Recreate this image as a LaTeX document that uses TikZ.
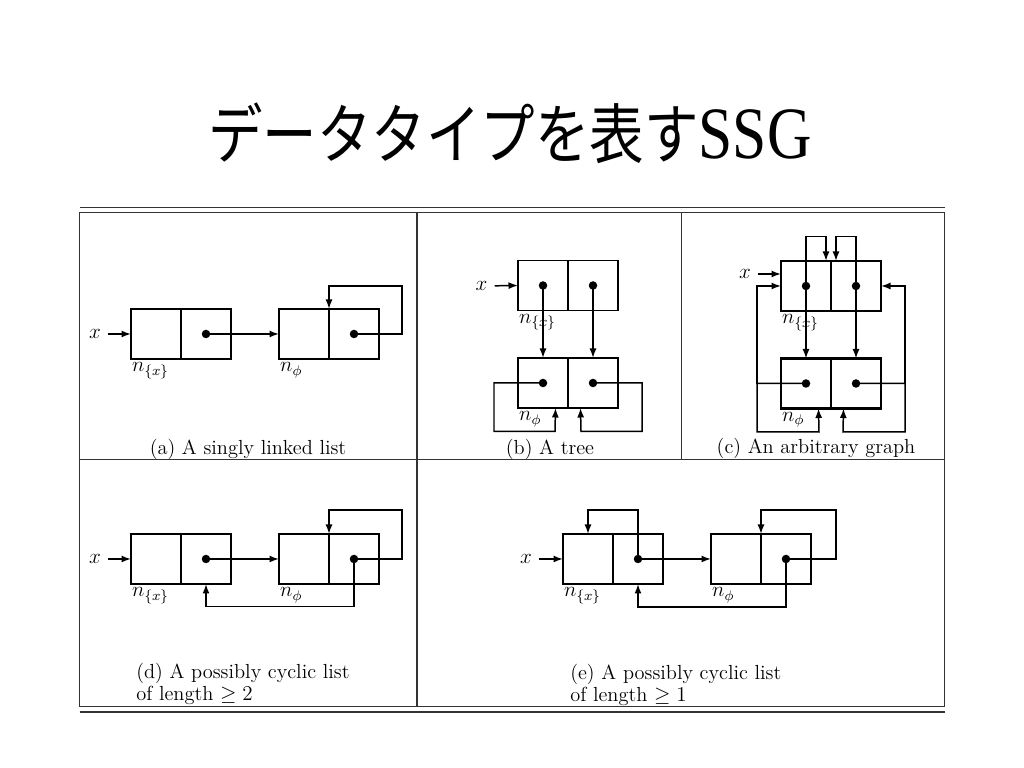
\documentclass[tikz,border=0pt]{standalone}
\usepackage{fontspec}
\usepackage{amsmath,amssymb}
\newfontfamily\jpfont{Noto Sans CJK JP}
\newfontfamily\titleserif{Liberation Serif}
\usetikzlibrary{positioning,arrows.meta}

\begin{document}
\begin{tikzpicture}[
  x=0.2mm, y=-0.2mm,
  cell/.style={draw, minimum width=10mm, minimum height=10mm,
               inner sep=0pt, outer sep=0pt, line width=0.85pt},
  boldcell/.style={cell, line width=1.4pt},
  arr/.style={-{Latex[length=1.9mm,width=1.4mm]}, line width=0.85pt},
  lab/.style={font=\fontsize{11.6}{12.5}\selectfont, inner xsep=0.5pt, inner ysep=2pt},
  xlab/.style={font=\fontsize{11.6}{12.5}\selectfont, inner sep=4pt},
  captext/.style={font=\fontsize{11.6}{13}\selectfont, align=left, inner sep=0pt},
  rule/.style={line width=0.9pt, black!80}
]
  \useasboundingbox (0,0) rectangle (1024,768);

  \node (title) at (510,133) {\scalebox{1}[1.2]{%
    {\jpfont\fontsize{31}{36}\selectfont データタイプを表す}%
    {\titleserif\fontsize{35}{40}\selectfont SSG}}};

  % table rules
  \draw[rule] (79.5,207.5) -- (945,207.5);
  \draw[rule] (79.5,212.5) rectangle (944.5,706.5);
  \draw[rule] (79.5,712) -- (945,712);
  \draw[rule] (79.5,459.5) -- (944.5,459.5);
  \draw[rule] (417,212.5) -- (417,706.5);
  \draw[rule] (681.5,212.5) -- (681.5,459.5);

  % (a) singly linked list
  \node[cell] (a1l) at (156,334) {};
  \node[cell, right=0pt of a1l] (a1r) {};
  \node[cell, right=9.6mm of a1r] (a2l) {};
  \node[cell, right=0pt of a2l] (a2r) {};
  \node[xlab] (ax) at (95,334) {$x$};
  \node[lab, anchor=north west] (a1lab) at (a1l.south west) {$n_{\{x\}}$};
  \node[lab, anchor=north west] (a2lab) at (a2l.south west) {$n_\phi$};
  \draw[arr] (ax) -- (a1l.west);
  \draw[arr] (a1r.center) -- (a2l.west);
  \draw[arr] (a2r.center) -- ++(48,0) -- ++(0,-48) -| (a2r.north west);
  \node[captext] (capa) at (248,449) {(a) A singly linked list};

  % (b) tree
  \node[cell] (b1l) at (543,285.5) {};
  \node[cell, right=0pt of b1l] (b1r) {};
  \node[cell, below=9.5mm of b1l] (b2l) {};
  \node[cell, right=0pt of b2l] (b2r) {};
  \node[xlab] (bx) at (481.5,286) {$x$};
  \node[lab, anchor=north west] (b1lab) at (b1l.south west) {$n_{\{x\}}$};
  \node[lab, anchor=north west] (b2lab) at (b2l.south west) {$n_\phi$};
  \draw[arr] (bx) -- (b1l.west);
  \draw[arr] (b1l.center) -- (b2l.north);
  \draw[arr] (b1r.center) -- (b2r.north);
  \draw[arr] (b2l.center) -- ++(-49,0) |- ++(61,48.5) -- ([xshift=2.5mm]b2l.south);
  \draw[arr] (b2r.center) -- ++(49,0) |- ++(-61,48.5) -- ([xshift=-2.5mm]b2r.south);
  \node[captext] (capb) at (550,449) {(b) A tree};

  % (c) arbitrary graph
  \node[boldcell] (c1l) at (806,286) {};
  \node[boldcell, right=0pt of c1l] (c1r) {};
  \node[boldcell, below=9.5mm of c1l] (c2l) {};
  \node[boldcell, right=0pt of c2l] (c2r) {};
  \node[xlab] (cx) at (745,274) {$x$};
  \node[lab, anchor=north west] (c1lab) at (c1l.south west) {$n_{\{x\}}$};
  \node[lab, anchor=north west] (c2lab) at (c2l.south west) {$n_\phi$};
  \draw[arr] (cx) -- (cx -| c1l.west);
  \draw[arr] (c1l.center) -- ++(0,-49.5) -| ([xshift=-1mm]c1l.north east);
  \draw[arr] (c1r.center) -- ++(0,-49.5) -| ([xshift=1mm]c1r.north west);
  \draw[arr] (c1l.center) -- (c2l.north);
  \draw[arr] (c1r.center) -- (c2r.north);
  \draw[arr] (c2l.center) -- ++(-49,0) |- (c1l.west);
  \draw[arr] (c2l.center) -- ++(-49,0) |- ++(62,48.5) -- ([xshift=2.5mm]c2l.south);
  \draw[arr] (c2r.center) -- ++(49,0) |- (c1r.east);
  \draw[arr] (c2r.center) -- ++(49,0) |- ++(-62,48.5) -- ([xshift=-2.5mm]c2r.south);
  \node[captext] (capc) at (816,448) {(c) An arbitrary graph};

  % (d) cyclic list, length >= 2
  \node[cell] (d1l) at (156,559) {};
  \node[cell, right=0pt of d1l] (d1r) {};
  \node[cell, right=9.6mm of d1r] (d2l) {};
  \node[cell, right=0pt of d2l] (d2r) {};
  \node[xlab] (dx) at (95,559) {$x$};
  \node[lab, anchor=north west] (d1lab) at (d1l.south west) {$n_{\{x\}}$};
  \node[lab, anchor=north west] (d2lab) at (d2l.south west) {$n_\phi$};
  \draw[arr] (dx) -- (d1l.west);
  \draw[arr] (d1r.center) -- (d2l.west);
  \draw[arr] (d2r.center) -- ++(48,0) -- ++(0,-49) -| (d2r.north west);
  \draw[arr] (d2r.center) -- ++(0,47.5) -| (d1r.south);
  \node[captext, anchor=west] (capd) at (136,684)
    {(d) A possibly cyclic list\\of length $\geq 2$};

  % (e) cyclic list, length >= 1
  \node[cell] (e1l) at (588,559) {};
  \node[cell, right=0pt of e1l] (e1r) {};
  \node[cell, right=9.6mm of e1r] (e2l) {};
  \node[cell, right=0pt of e2l] (e2r) {};
  \node[xlab] (ex) at (526,559) {$x$};
  \node[lab, anchor=north west] (e1lab) at (e1l.south west) {$n_{\{x\}}$};
  \node[lab, anchor=north west] (e2lab) at (e2l.south west) {$n_\phi$};
  \draw[arr] (ex) -- (e1l.west);
  \draw[arr] (e1r.center) -- ++(0,-49) -| (e1l.north);
  \draw[arr] (e1r.center) -- (e2l.west);
  \draw[arr] (e2r.center) -- ++(50,0) -- ++(0,-49) -| (e2r.north west);
  \draw[arr] (e2r.center) -- ++(0,48) -| (e1r.south);
  \node[captext, anchor=west] (cape) at (570,685)
    {(e) A possibly cyclic list\\of length $\geq 1$};

  % pointer dots
  \foreach \c in {a1r,a2r,b1l,b1r,b2l,b2r,c1l,c1r,c2l,c2r,d1r,d2r,e1r,e2r}
    \fill (\c) circle[radius=0.85mm];
\end{tikzpicture}
\end{document}
